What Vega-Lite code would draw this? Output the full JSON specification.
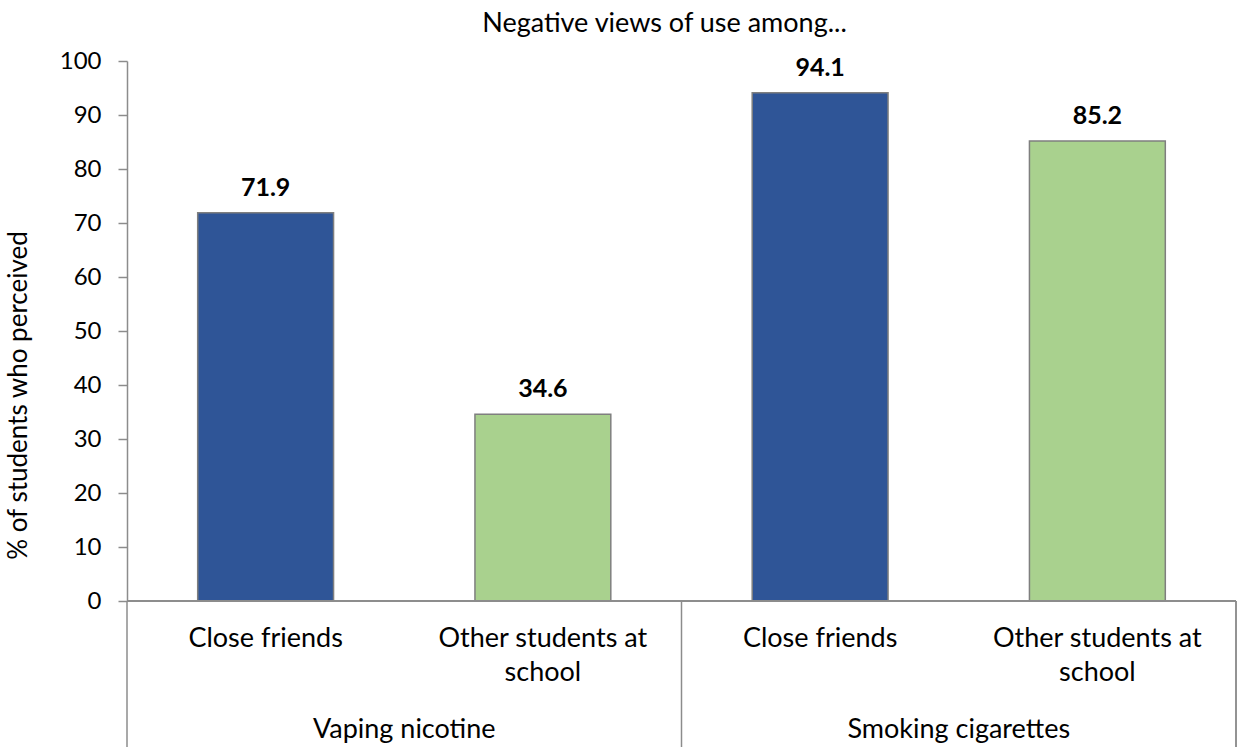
{
  "$schema": "https://vega.github.io/schema/vega-lite/v6.json",
  "autosize": {"type": "none"},
  "width": 1109,
  "height": 686,
  "padding": {"left": 127, "top": 61, "right": 2, "bottom": 0},
  "background": "white",
  "config": {
    "font": "Lato",
    "view": {"stroke": null},
    "axis": {"labelFont": "Lato", "titleFont": "Lato"}
  },
  "title": {
    "text": "Negative views of use among...",
    "anchor": "middle",
    "frame": "group",
    "dx": -17,
    "offset": 11,
    "fontSize": 27,
    "fontWeight": "normal",
    "color": "#000000",
    "font": "Lato"
  },
  "data": {
    "values": [
      {"group": "Vaping nicotine", "sub": "Close friends", "value": 71.9},
      {"group": "Vaping nicotine", "sub": "Other students at\nschool", "value": 34.6},
      {"group": "Smoking cigarettes", "sub": "Close friends", "value": 94.1},
      {"group": "Smoking cigarettes", "sub": "Other students at\nschool", "value": 85.2}
    ]
  },
  "layer": [
    {
      "mark": {"type": "bar", "stroke": "#7F7F7F", "strokeWidth": 1.5},
      "encoding": {
        "x": {
          "field": "group", "type": "nominal",
          "sort": ["Vaping nicotine", "Smoking cigarettes"],
          "scale": {"paddingInner": 0, "paddingOuter": 0},
          "axis": null
        },
        "xOffset": {
          "field": "sub", "type": "nominal",
          "sort": ["Close friends", "Other students at\nschool"],
          "scale": {"paddingInner": 0.51, "paddingOuter": 0.255}
        },
        "y": {
          "field": "value", "type": "quantitative",
          "scale": {"domain": [0, 100], "range": [540, 0], "nice": false, "zero": true},
          "axis": {
            "values": [0, 10, 20, 30, 40, 50, 60, 70, 80, 90, 100],
            "grid": false,
            "domainColor": "#8C8C8C",
            "domainWidth": 1.5,
            "tickColor": "#8C8C8C",
            "tickWidth": 1.5,
            "tickSize": 9,
            "labelPadding": 17,
            "labelFontSize": 24,
            "labelColor": "#000000",
            "title": "% of students who perceived",
            "titleFontSize": 26,
            "titleFontWeight": "normal",
            "titleColor": "#000000",
            "titleAngle": -90,
            "titleX": -109,
            "titleY": 334,
            "titleAlign": "center",
            "titleBaseline": "middle"
          }
        },
        "color": {
          "field": "sub", "type": "nominal",
          "scale": {"domain": ["Close friends", "Other students at\nschool"], "range": ["#2F5597", "#A9D18E"]},
          "legend": null
        }
      }
    },
    {
      "mark": {"type": "text", "fontWeight": "bold", "fontSize": 25, "dy": -17, "baseline": "alphabetic", "color": "#000000"},
      "encoding": {
        "x": {"field": "group", "type": "nominal", "sort": ["Vaping nicotine", "Smoking cigarettes"]},
        "xOffset": {"field": "sub", "type": "nominal", "sort": ["Close friends", "Other students at\nschool"]},
        "y": {"field": "value", "type": "quantitative"},
        "text": {"field": "value", "type": "quantitative", "format": ".1f"}
      }
    },
    {
      "mark": {"type": "rule", "color": "#8C8C8C", "strokeWidth": 1.5},
      "encoding": {"y": {"datum": 0}}
    },
    {
      "mark": {"type": "text", "fontSize": 27, "baseline": "alphabetic", "lineBreak": "\n", "lineHeight": 34, "color": "#000000"},
      "encoding": {
        "x": {"field": "group", "type": "nominal", "sort": ["Vaping nicotine", "Smoking cigarettes"]},
        "xOffset": {"field": "sub", "type": "nominal", "sort": ["Close friends", "Other students at\nschool"]},
        "y": {"datum": -8.6},
        "text": {"field": "sub"}
      }
    },
    {
      "transform": [{"aggregate": [], "groupby": ["group"]}],
      "mark": {"type": "text", "fontSize": 27, "baseline": "alphabetic", "color": "#000000"},
      "encoding": {
        "x": {"field": "group", "type": "nominal", "sort": ["Vaping nicotine", "Smoking cigarettes"]},
        "y": {"datum": -25.4},
        "text": {"field": "group"}
      }
    },
    {
      "transform": [{"aggregate": [], "groupby": ["group"]}],
      "mark": {"type": "rule", "color": "#8C8C8C", "strokeWidth": 1.5},
      "encoding": {
        "x": {"field": "group", "type": "nominal", "sort": ["Vaping nicotine", "Smoking cigarettes"], "bandPosition": 0},
        "y": {"datum": 0},
        "y2": {"datum": -28}
      }
    },
    {
      "transform": [{"filter": {"field": "group", "equal": "Smoking cigarettes"}}],
      "mark": {"type": "rule", "color": "#8C8C8C", "strokeWidth": 1.5},
      "encoding": {
        "x": {"field": "group", "type": "nominal", "sort": ["Vaping nicotine", "Smoking cigarettes"], "bandPosition": 1},
        "y": {"datum": 0},
        "y2": {"datum": -28}
      }
    }
  ]
}
